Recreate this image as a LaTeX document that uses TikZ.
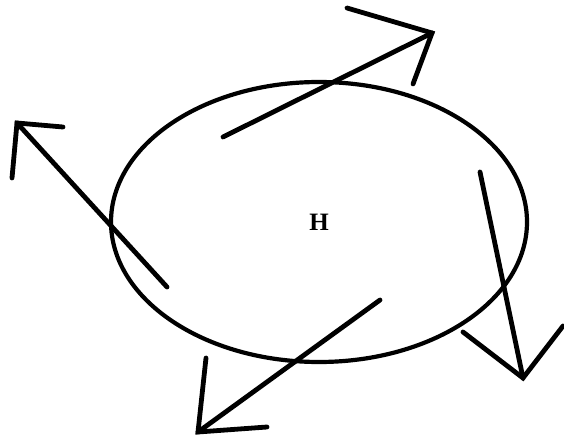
\documentclass[tikz,border=0pt]{standalone}
\usepackage{fontspec}
\setmainfont{Liberation Serif}
\usetikzlibrary{shapes.geometric}
\begin{document}
\begin{tikzpicture}[x=1pt,y=-1pt,
  stroke/.style={line width=4.8pt,line cap=round,line join=miter},
  ring/.style={draw,ellipse,line width=4.2pt,inner sep=0pt,minimum width=416pt,minimum height=280pt,font=\bfseries\fontsize{25}{25}\selectfont}]
\useasboundingbox (0,0) rectangle (564,438);
\node[ring] (e) at (319,222) {H};
% arrow 1 (upper right)
\coordinate (t1) at (223,137);
\coordinate (h1) at (432,33);
\coordinate (a1) at (347,8);
\coordinate (b1) at (413,84);
\draw[stroke] (t1) -- (h1);
\draw[stroke] (a1) -- (h1) -- (b1);
% arrow 2 (left)
\coordinate (t2) at (167,287);
\coordinate (h2) at (17,123);
\coordinate (a2) at (63,127);
\coordinate (b2) at (12,178);
\draw[stroke] (t2) -- (h2);
\draw[stroke] (a2) -- (h2) -- (b2);
% arrow 3 (lower right)
\coordinate (t3) at (480,172);
\coordinate (h3) at (523,378);
\coordinate (a3) at (463,332);
\coordinate (b3) at (563,326);
\draw[stroke] (t3) -- (h3);
\draw[stroke] (a3) -- (h3) -- (b3);
% arrow 4 (bottom)
\coordinate (t4) at (380,300);
\coordinate (h4) at (198,432);
\coordinate (a4) at (206,358);
\coordinate (b4) at (267,427);
\draw[stroke] (t4) -- (h4);
\draw[stroke] (a4) -- (h4) -- (b4);
\end{tikzpicture}
\end{document}
